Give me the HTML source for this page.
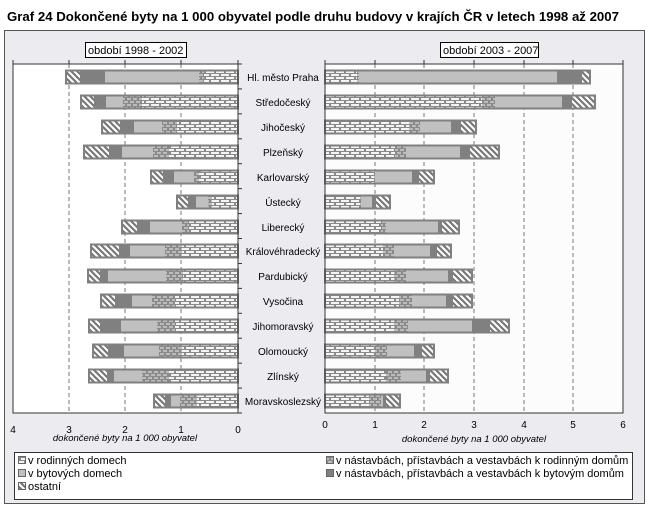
<!DOCTYPE html>
<html><head><meta charset="utf-8"><style>
body{margin:0;background:#fff;}
svg{display:block;font-family:"Liberation Sans",Arial,sans-serif;}
</style></head><body>
<svg id="s" width="649" height="510" viewBox="0 0 649 510" xmlns="http://www.w3.org/2000/svg">
<defs>
<pattern id="rod" width="10" height="6" patternUnits="userSpaceOnUse" y="1">
<rect width="10" height="6" fill="#8a8a8a"/>
<rect x="1" y="1" width="8" height="2" fill="#f4f4f4"/>
<rect x="-4" y="4" width="8" height="2" fill="#f4f4f4"/>
<rect x="6" y="4" width="8" height="2" fill="#f4f4f4"/>
</pattern>
<pattern id="nrd" width="6" height="6" patternUnits="userSpaceOnUse" y="1">
<rect width="6" height="6" fill="#8a8a8a"/>
<rect x="1" y="1" width="4" height="2" fill="#bcbcbc"/>
<rect x="-2" y="4" width="4" height="2" fill="#bcbcbc"/>
<rect x="4" y="4" width="4" height="2" fill="#bcbcbc"/>
</pattern>
<pattern id="hat" width="6" height="6" patternUnits="userSpaceOnUse">
<rect width="6" height="6" fill="#fff"/>
<path d="M-1,-1 L7,7 M-4,2 L4,10 M2,-4 L10,4" stroke="#777" stroke-width="2.2"/>
</pattern>
</defs>
<rect width="649" height="510" fill="#fff"/>
<text x="7" y="21" font-size="12.5" font-weight="bold" fill="#000" textLength="612" lengthAdjust="spacingAndGlyphs">Graf 24 Dokončené byty na 1 000 obyvatel podle druhu budovy v krajích ČR v letech 1998 až 2007</text>
<rect x="4.5" y="30.5" width="640" height="473" fill="#ECEBEF" stroke="#555"/>
<rect x="13" y="64" width="225" height="349" fill="#fff"/>
<rect x="325" y="64" width="298" height="349" fill="#fcfcfc"/>
<g id="grid" stroke="#777" stroke-dasharray="4,3"></g>
<g id="bars"></g>
<g stroke="#333" fill="none">
<path d="M13,64 V413 H238 V64 H13"/>
<path d="M325,64 V413 H623 V64 H325"/>
</g>
<g id="ticks" stroke="#333"></g>
<rect x="85.5" y="42.5" width="101" height="15" fill="#fff" stroke="#000"/>
<text x="88" y="54" font-size="11">období 1998 - 2002</text>
<rect x="440.5" y="42.5" width="98" height="15" fill="#fff" stroke="#000"/>
<text x="443" y="54" font-size="11">období 2003 - 2007</text>
<g font-size="10" text-anchor="middle" fill="#000">
<text x="283" y="81">Hl. město Praha</text>
<text x="283" y="106">Středočeský</text>
<text x="283" y="131">Jihočeský</text>
<text x="283" y="156">Plzeňský</text>
<text x="283" y="181">Karlovarský</text>
<text x="283" y="206">Ústecký</text>
<text x="283" y="231">Liberecký</text>
<text x="283" y="255">Královéhradecký</text>
<text x="283" y="280">Pardubický</text>
<text x="283" y="305">Vysočina</text>
<text x="283" y="330">Jihomoravský</text>
<text x="283" y="355">Olomoucký</text>
<text x="283" y="380">Zlínský</text>
<text x="283" y="405">Moravskoslezský</text>
</g>
<g font-size="10" text-anchor="middle">
<text x="13" y="433">4</text><text x="69" y="433">3</text><text x="125" y="433">2</text><text x="181" y="433">1</text><text x="238" y="433">0</text>
<text x="325" y="428">0</text><text x="375" y="428">1</text><text x="424" y="428">2</text><text x="474" y="428">3</text><text x="524" y="428">4</text><text x="573" y="428">5</text><text x="623" y="428">6</text>
<text x="125" y="441" font-style="italic" font-size="9.5">dokončené byty na 1 000 obyvatel</text>
<text x="474" y="442" font-style="italic" font-size="9.5">dokončené byty na 1 000 obyvatel</text>
</g>
<rect x="14.5" y="452.5" width="618" height="47" fill="#fff" stroke="#333"/>
<g font-size="11">
<rect x="18.5" y="456.5" width="7" height="7" fill="url(#rod)" stroke="#666"/><text x="28" y="464">v rodinných domech</text>
<rect x="18.5" y="469.5" width="7" height="7" fill="#c0c0c0" stroke="#666"/><text x="28" y="477">v bytových domech</text>
<rect x="18.5" y="482.5" width="7" height="7" fill="url(#hat)" stroke="#666"/><text x="28" y="490">ostatní</text>
<rect x="326.5" y="456.5" width="7" height="7" fill="url(#nrd)" stroke="#666"/><text x="336" y="464">v nástavbách, přístavbách a vestavbách k rodinným domům</text>
<rect x="326.5" y="469.5" width="7" height="7" fill="#808080" stroke="#666"/><text x="336" y="477">v nástavbách, přístavbách a vestavbách k bytovým domům</text>
</g>
</svg>
<script>
var ys=[77,102,127,152,177,202,227,251,276,301,326,351,376,401];
var L=[[66,80,105,199,204],[81,94,106,123,142],[102,120,134,162,177],[84,109,122,153,169],[151,163,174,194,199],[177,188,196,208,212],[122,137,150,182,189],[91,119,130,165,182],[88,100,108,166,183],[101,115,132,152,175],[89,100,121,157,175],[93,108,124,159,182],[89,107,114,142,169],[154,165,171,180,197]];
var R=[[357,359,557,582,590],[482,495,562,572,595],[409,420,451,461,476],[395,406,460,470,499],[374,375,412,419,434],[360,361,372,376,390],[381,386,438,442,459],[383,394,430,437,451],[394,406,448,453,472],[399,412,446,453,472],[394,408,472,490,509],[375,387,414,422,434],[386,401,426,430,448],[369,381,383,386,400]];
var NS="http://www.w3.org/2000/svg";
function r(g,x,y,w,h,f){var e=document.createElementNS(NS,"rect");e.setAttribute("x",x);e.setAttribute("y",y);e.setAttribute("width",w);e.setAttribute("height",h);e.setAttribute("fill",f);g.appendChild(e);}
function l(g,x1,y1,x2,y2){var e=document.createElementNS(NS,"line");e.setAttribute("x1",x1);e.setAttribute("y1",y1);e.setAttribute("x2",x2);e.setAttribute("y2",y2);g.appendChild(e);}
function fr(g,x,y,w,h){var f=document.createElementNS(NS,"rect");f.setAttribute("x",x);f.setAttribute("y",y);f.setAttribute("width",w);f.setAttribute("height",h);f.setAttribute("fill","none");f.setAttribute("stroke","#808080");f.setAttribute("stroke-width","2");g.appendChild(f);}
var G=document.getElementById("grid"),B=document.getElementById("bars"),T=document.getElementById("ticks");
[69,125,181,375,424,474,524,573].forEach(function(x){l(G,x,64,x,413);});
[13,69,125,181,238,325,375,424,474,524,573,623].forEach(function(x){l(T,x,60,x,64);});
for(var i=0;i<=14;i++){var y=64+i*24.93;l(T,238,y,242,y);}
var fl=["url(#hat)","#808080","#c0c0c0","url(#nrd)","url(#rod)"];
var frr=["url(#rod)","url(#nrd)","#c0c0c0","#808080","url(#hat)"];
ys.forEach(function(cy,i){var y=cy-6.5,h=13,a=L[i].concat([238]);
for(var k=0;k<5;k++)r(B,a[k],y,a[k+1]-a[k],h,fl[k]);
fr(B,a[0],y,238-a[0],h);
var b=[325].concat(R[i]);
for(var k=0;k<5;k++)r(B,b[k],y,b[k+1]-b[k],h,frr[k]);
fr(B,325,y,b[5]-325,h);
});
</script>
</body></html>
